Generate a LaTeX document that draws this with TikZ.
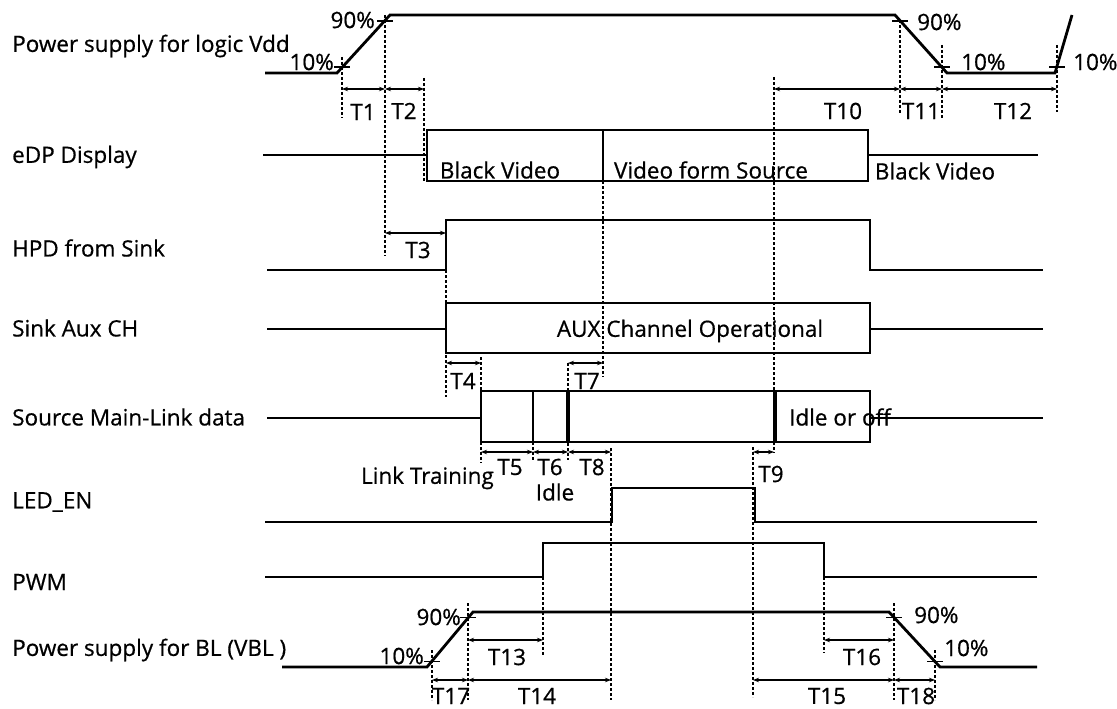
\documentclass[tikz,border=0pt]{standalone}
\usepackage{fontspec}
\setmainfont{Open Sans}[FakeBold=0.6]
\usetikzlibrary{arrows.meta}
\begin{document}
\begin{tikzpicture}[x=1pt,y=-1pt,
  sig/.style={line width=2.8pt,line join=miter},
  thk/.style={line width=4pt},
  dsh/.style={line width=1.1pt,dash pattern=on 3pt off 2pt},
  tck/.style={line width=1.5pt},
  dimarr/.style={line width=1.3pt,{Stealth[length=6pt,width=4.5pt]}-{Stealth[length=6pt,width=4.5pt]}},
  lab/.style={font=\fontsize{22.5}{26}\selectfont,inner sep=0pt,anchor=west},
  txt/.style={font=\fontsize{22.5}{26}\selectfont,inner sep=0pt}]
\useasboundingbox[fill=white] (0,0) rectangle (1117,709);

% ---------- left labels
\node[lab] (lvdd) at (12,46) {Power supply for logic Vdd};
\node[lab] (ledp) at (12,157) {eDP Display};
\node[lab] (lhpd) at (12,248) {HPD from Sink};
\node[lab] (laux) at (12,328) {Sink Aux CH};
\node[lab] (lml)  at (12,417) {Source Main-Link data};
\node[lab] (lled) at (12,502) {LED\_EN};
\node[lab] (lpwm) at (12,582) {PWM};
\node[lab] (lvbl) at (12,650) {Power supply for BL (VBL )};

% ---------- Vdd
\draw[sig] (265,73) -- (337,73) -- (390,15) -- (895,15) -- (947,73) -- (1055,73) -- (1072,15);
\draw[tck] (334,67) -- (350,67);
\draw[tck] (377,21) -- (393,21);
\draw[tck] (892,21) -- (908,21);
\draw[tck] (934,67) -- (950,67);
\draw[tck] (1049,67) -- (1065,67);
\node[txt,anchor=east] (p1) at (334,62) {10\%};
\node[txt,anchor=east] (p2) at (375,20) {90\%};
\node[txt,anchor=west] (p3) at (917,22) {90\%};
\node[txt,anchor=west] (p4) at (961,62) {10\%};
\node[txt,anchor=west] (p5) at (1073,62) {10\%};

% ---------- eDP
\draw[sig] (263,155) -- (427,155);
\draw[sig] (427,130) rectangle (868,181);
\draw[sig] (603,130) -- (603,181);
\draw[sig] (868,155) -- (1038,155);
\node[txt] (bv1) at (500,170) {Black Video};
\node[txt] (vfs) at (711,170) {Video form Source};
\node[txt] (bv2) at (935,171) {Black Video};

% ---------- HPD
\draw[sig] (267,270) -- (446,270) -- (446,220) -- (870,220) -- (870,270) -- (1043,270);

% ---------- AUX
\draw[sig] (267,329) -- (446,329);
\draw[sig] (446,303) rectangle (870,353);
\draw[sig] (870,329) -- (1043,329);
\node[txt] (aux) at (690,331) {AUX Channel Operational};

% ---------- Main link
\draw[sig] (267,418) -- (481,418);
\draw[sig] (481,391) rectangle (870,442);
\draw[sig] (533,391) -- (533,442);
\draw[thk] (568,391) -- (568,442);
\draw[thk] (775,391) -- (775,442);
\draw[sig] (870,418) -- (1043,418);
\node[txt] (idle2) at (840,417) {Idle or off};

% ---------- LED_EN
\draw[sig] (265,522) -- (612,522) -- (612,488) -- (755,488) -- (755,522) -- (1037,522);

% ---------- PWM
\draw[sig] (265,577) -- (543,577) -- (543,543) -- (824,543) -- (824,577) -- (1037,577);

% ---------- VBL
\draw[sig] (282,667) -- (427,667) -- (473,612) -- (889,612) -- (940,667) -- (1037,667);
\draw[tck] (424,661.5) -- (440,661.5);
\draw[tck] (460,617.5) -- (476,617.5);
\draw[tck] (886,617.5) -- (902,617.5);
\draw[tck] (927,661.5) -- (943,661.5);
\node[txt,anchor=east] (q2) at (461,617) {90\%};
\node[txt,anchor=east] (q1) at (424,656) {10\%};
\node[txt,anchor=west] (q3) at (914,615) {90\%};
\node[txt,anchor=west] (q4) at (944,648) {10\%};

% ---------- dashed guides
\draw[dsh] (342,57) -- (342,118);
\draw[dsh] (385,15) -- (385,256);
\draw[dsh] (424,78) -- (424,182);
\draw[dsh] (900,20) -- (900,113);
\draw[dsh] (942,45) -- (942,118);
\draw[dsh] (1057,45) -- (1057,112);
\draw[dsh] (774,77) -- (774,453);
\draw[dsh] (446,270) -- (446,397);
\draw[dsh] (481,357) -- (481,463);
\draw[dsh] (533,442) -- (533,460);
\draw[dsh] (568,363) -- (568,460);
\draw[dsh] (603,181) -- (603,377);
\draw[dsh] (611,448) -- (611,700);
\draw[dsh] (753,447) -- (753,697);
\draw[dsh] (543,577) -- (543,655);
\draw[dsh] (824,577) -- (824,653);
\draw[dsh] (432,650) -- (432,700);
\draw[dsh] (468,603) -- (468,700);
\draw[dsh] (894,603) -- (894,700);
\draw[dsh] (935,650) -- (935,700);

% ---------- timing arrows
\draw[dimarr] (342,89) -- (385,89);  \node[txt] (t1) at (363,112) {T1};
\draw[dimarr] (385,89) -- (424,89);  \node[txt] (t2) at (404,111) {T2};
\draw[dimarr] (385,233) -- (446,233); \node[txt] (t3) at (418,250) {T3};
\draw[dimarr] (446,363) -- (481,363); \node[txt] (t4) at (463,381) {T4};
\draw[dimarr] (568,363) -- (603,363); \node[txt] (t7) at (587,381) {T7};
\draw[dimarr] (481,452) -- (533,452); \node[txt] (t5) at (510,467) {T5};
\draw[dimarr] (533,452) -- (568,452); \node[txt] (t6) at (550,467) {T6};
\draw[dimarr] (568,452) -- (611,452); \node[txt] (t8) at (592,467) {T8};
\draw[dimarr] (753,452) -- (774,452); \node[txt] (t9) at (771,474) {T9};
\draw[dimarr] (774,89) -- (900,89);  \node[txt] (t10) at (843,111) {T10};
\draw[dimarr] (900,89) -- (942,89);  \node[txt] (t11) at (921,111) {T11};
\draw[dimarr] (942,89) -- (1057,89); \node[txt] (t12) at (1013,111) {T12};
\draw[dimarr] (468,640) -- (543,640); \node[txt] (t13) at (507,657) {T13};
\draw[dimarr] (468,680) -- (611,680); \node[txt] (t14) at (537,696) {T14};
\draw[dimarr] (432,680) -- (468,680); \node[txt] (t17) at (451,696) {T17};
\draw[dimarr] (824,640) -- (894,640); \node[txt] (t16) at (862,657) {T16};
\draw[dimarr] (753,680) -- (894,680); \node[txt] (t15) at (827,696) {T15};
\draw[dimarr] (894,680) -- (935,680); \node[txt] (t18) at (916,696) {T18};

\node[txt,anchor=east] (lt) at (494,478) {Link Training};
\node[txt] (idle1) at (555,492) {Idle};
\end{tikzpicture}
\end{document}
